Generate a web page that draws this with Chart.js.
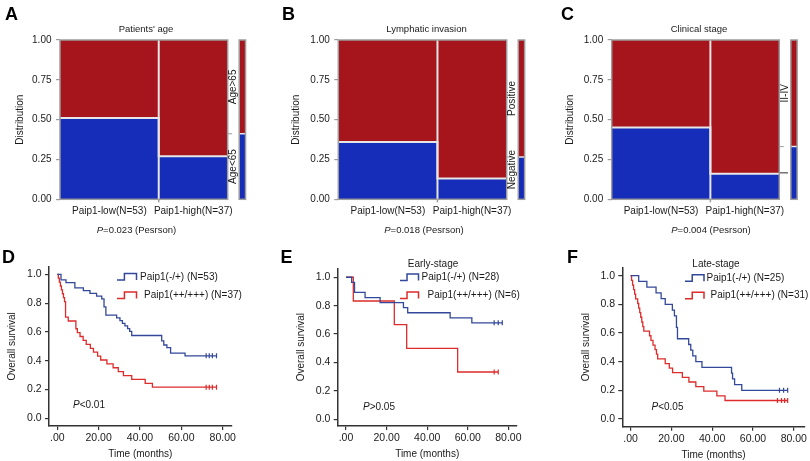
<!DOCTYPE html>
<html>
<head>
<meta charset="utf-8">
<script src="https://cdn.jsdelivr.net/npm/chart.js@4.4.0/dist/chart.umd.min.js"></script>
<style>
  body { margin: 0; background: #fff; }
  #fig { position: relative; width: 810px; height: 461px; overflow: hidden;
         font-family: "Liberation Sans", Arial, sans-serif; color: #1a1a1a; }
  #fig canvas { position: absolute; }
  .c { position: absolute; transform: translate(-50%, -50%); white-space: nowrap; line-height: 1; }
  .l { position: absolute; transform: translate(0, -50%); white-space: nowrap; line-height: 1; }
  .letter { font-size: 18px; font-weight: bold; color: #000; }
  .s { font-size: 9.5px; }
  .m { font-size: 10px; }
</style>
</head>
<body>
<div id="fig">
  <canvas id="cA" width="270" height="222" style="left:0;top:0"></canvas>
  <canvas id="cB" width="270" height="222" style="left:270px;top:0"></canvas>
  <canvas id="cC" width="270" height="222" style="left:540px;top:0"></canvas>
  <canvas id="cD" width="270" height="236" style="left:0;top:225px"></canvas>
  <canvas id="cE" width="270" height="236" style="left:270px;top:225px"></canvas>
  <canvas id="cF" width="270" height="236" style="left:540px;top:225px"></canvas>

  <div class="c letter" style="left:11.5px;top:13.5px">A</div>
  <div class="c letter" style="left:288.5px;top:13.5px">B</div>
  <div class="c letter" style="left:567.5px;top:13.5px">C</div>
  <div class="c letter" style="left:8.5px;top:256.5px">D</div>
  <div class="c letter" style="left:286.5px;top:256.5px">E</div>
  <div class="c letter" style="left:572.5px;top:256.5px">F</div>

  <div class="c s" style="left:146px;top:29px">Patients' age</div>
  <div class="c s" style="left:426.5px;top:29px">Lymphatic invasion</div>
  <div class="c s" style="left:699px;top:29px">Clinical stage</div>

  <div class="c s" style="left:136.5px;top:230px"><i>P</i>=0.023 (Pesrson)</div>
  <div class="c s" style="left:424px;top:230px"><i>P</i>=0.018 (Pesrson)</div>
  <div class="c s" style="left:711px;top:230px"><i>P</i>=0.004 (Pesrson)</div>

  <div class="c m" style="left:433px;top:263.5px">Early-stage</div>
  <div class="c m" style="left:716px;top:263.5px">Late-stage</div>

  <div class="l m" style="left:73px;top:405px"><i>P</i>&lt;0.01</div>
  <div class="l m" style="left:363px;top:406.5px"><i>P</i>&gt;0.05</div>
  <div class="l m" style="left:651.5px;top:406.5px"><i>P</i>&lt;0.05</div>
</div>
<script>
// ---- mosaic panels (A-C) ----
const groups = ["Paip1-low(N=53)", "Paip1-high(N=37)"];
const groupN = [53, 37];
const distTicks = [0, 0.25, 0.5, 0.75, 1];

// share of the lower (blue) category within each group
const ageBlue = [0.51, 0.27];
const lymphBlue = [0.36, 0.13];
const stageBlue = [0.45, 0.16];
const ageCats = ["Age<65", "Age>65"];
const lymphCats = ["Negative", "Positive"];
const stageCats = ["I", "II-IV"];

// ---- survival panels (D-F) ----
const timeTicks = [0, 20, 40, 60, 80];
const survTicks = [0, 0.2, 0.4, 0.6, 0.8, 1.0];

const allLabels = ["Paip1(-/+) (N=53)", "Paip1(++/+++) (N=37)"];
const allLowT = [0, 1.8, 4.2, 8.5, 12.6, 15.8, 19, 21.5, 22.6, 23.5, 28.7, 30.3, 31.5, 32.7, 34, 35, 36, 50.5, 51.5, 53, 54.8, 61.8, 77];
const allLowS = [1, 0.962, 0.943, 0.906, 0.887, 0.868, 0.849, 0.830, 0.774, 0.717, 0.698, 0.679, 0.660, 0.642, 0.623, 0.604, 0.575, 0.538, 0.509, 0.491, 0.453, 0.434, 0.434];
const allLowCens = [72, 73.5, 75, 77];
const allHighT = [0, 0.5, 1, 1.5, 2, 2.5, 3, 3.5, 4, 5.3, 9, 9.7, 11, 12.5, 14, 16, 17.5, 19.5, 21, 24, 27, 29.5, 32, 36, 42.5, 46, 77];
const allHighS = [1, 0.973, 0.946, 0.919, 0.892, 0.865, 0.838, 0.811, 0.703, 0.676, 0.622, 0.595, 0.568, 0.541, 0.514, 0.486, 0.459, 0.432, 0.405, 0.378, 0.351, 0.324, 0.297, 0.270, 0.243, 0.216, 0.216];
const allHighCens = [72, 73.5, 75, 77];

const earlyLabels = ["Paip1(-/+) (N=28)", "Paip1(++/+++) (N=6)"];
const earlyLowT = [0, 2.8, 4.2, 9.4, 16.8, 28.3, 30.4, 51.3, 62, 77];
const earlyLowS = [1, 0.964, 0.893, 0.857, 0.821, 0.786, 0.750, 0.714, 0.679, 0.679];
const earlyLowCens = [73, 75, 77];
const earlyHighT = [0, 3.6, 23.8, 29.9, 55, 75];
const earlyHighS = [1, 0.833, 0.667, 0.5, 0.333, 0.333];
const earlyHighCens = [73, 75];

const lateLabels = ["Paip1(-/+) (N=25)", "Paip1(++/+++) (N=31)"];
const lateLowT = [0, 4, 8, 12.5, 15, 17, 20.5, 21.5, 22.5, 23, 28.5, 29.5, 30.5, 32, 35, 49.5, 50, 51, 54.5, 77];
const lateLowS = [1, 0.96, 0.92, 0.88, 0.84, 0.80, 0.76, 0.72, 0.64, 0.56, 0.52, 0.48, 0.44, 0.40, 0.36, 0.32, 0.28, 0.24, 0.20, 0.20];
const lateLowCens = [73, 75, 77];
const lateHighT = [0, 0.5, 1, 1.5, 2, 2.5, 3.5, 4, 4.5, 5, 5.5, 6, 6.5, 9.3, 10, 11, 12, 12.7, 13.3, 17, 19, 20.6, 25.4, 28.6, 32, 35.9, 42.3, 46.3, 77];
const lateHighS = [1, 0.968, 0.935, 0.903, 0.871, 0.839, 0.806, 0.774, 0.742, 0.710, 0.677, 0.645, 0.613, 0.581, 0.548, 0.516, 0.484, 0.452, 0.419, 0.387, 0.355, 0.323, 0.290, 0.258, 0.226, 0.194, 0.161, 0.129, 0.129];
const lateHighCens = [72, 74, 75.5, 77];

const FONT = '"Liberation Sans", Arial, sans-serif';
Chart.defaults.font.family = FONT;
Chart.defaults.font.size = 10;
Chart.defaults.color = "#1a1a1a";

const RED = "#a6141c", BLUE = "#152db8", SEP = "#e6e6e6", FRAME = "#9c9c9c";
const KM_BLUE = "#33489a", KM_RED = "#de2b2b";
const MARG = [96.2, 99.6];   // x-range of the marginal bar
const none = "rgba(0,0,0,0)";

const mosaicDeco = {
  id: "mosaicDeco",
  afterDatasetsDraw(chart, args, o) {
    if (!o.cats) return;
    const { ctx, scales: { x, y } } = chart;
    const total = groupN[0] + groupN[1];
    const top = y.getPixelForValue(1), bot = y.getPixelForValue(0);
    ctx.save();
    ctx.strokeStyle = FRAME;
    ctx.lineWidth = 1.5;
    const box = (a, b) => {
      const x0 = x.getPixelForValue(a), x1 = x.getPixelForValue(b);
      ctx.strokeRect(x0, top, x1 - x0, bot - top);
    };
    box(0, total);
    box(MARG[0], MARG[1]);
    const xs = x.getPixelForValue(groupN[0]);
    ctx.beginPath(); ctx.moveTo(xs, bot); ctx.lineTo(xs, bot + 3); ctx.stroke();
    const xr = x.getPixelForValue(total);
    const yo = y.getPixelForValue(o.overall);
    ctx.lineWidth = 1;
    ctx.beginPath(); ctx.moveTo(xr, yo); ctx.lineTo(xr + 4.5, yo); ctx.stroke();

    ctx.fillStyle = "#1a1a1a";
    ctx.font = "10px " + FONT;
    ctx.textAlign = "center";
    ctx.textBaseline = "middle";
    const lx = x.getPixelForValue(o.labelX);
    const segs = [[0, o.overall], [o.overall, 1]];
    o.cats.forEach((c, i) => {
      const half = ctx.measureText(c).width / 2 + 10;
      let yc = y.getPixelForValue((segs[i][0] + segs[i][1]) / 2);
      yc = Math.min(Math.max(yc, top + half), bot - half);
      ctx.save();
      ctx.translate(lx, yc);
      ctx.rotate(-Math.PI / 2);
      ctx.fillText(c, 0, 0);
      ctx.restore();
    });
    ctx.restore();
  }
};

const kmLegend = {
  id: "kmLegend",
  afterDraw(chart, args, o) {
    if (!o.items) return;
    const ctx = chart.ctx;
    ctx.save();
    ctx.font = "10px " + FONT;
    ctx.textAlign = "left";
    ctx.textBaseline = "middle";
    o.items.forEach(it => {
      const x0 = it.ix, x1 = it.ix + it.iw, yt = it.y - 3.5, yb = it.y + 3;
      const xm = x0 + it.iw * 0.38;
      ctx.strokeStyle = it.color;
      ctx.lineWidth = 1.5;
      ctx.beginPath();
      ctx.moveTo(x0, yb); ctx.lineTo(xm, yb); ctx.lineTo(xm, yt);
      ctx.lineTo(x1, yt); ctx.lineTo(x1, yb);
      ctx.stroke();
      ctx.fillStyle = "#1a1a1a";
      ctx.fillText(it.text, it.tx, it.y);
    });
    ctx.restore();
  }
};

function mosaic(id, blue, cats, lay) {
  const total = groupN[0] + groupN[1];
  const cut = groupN[0];
  const overall = (blue[0] * groupN[0] + blue[1] * groupN[1]) / total;
  const centers = [cut / 2, cut + groupN[1] / 2];
  const flat = { pointRadius: 0, borderWidth: 0, borderColor: none };
  new Chart(document.getElementById(id), {
    type: "line",
    data: {
      // the first dataset is painted on top
      datasets: [
        { ...flat, data: [{ x: cut, y: 0 }, { x: cut, y: 1 }], borderColor: SEP, borderWidth: 2 },
        { ...flat, data: [{ x: 0, y: blue[0] }, { x: cut, y: blue[1] }, { x: total, y: blue[1] }],
          stepped: "before", fill: "origin", backgroundColor: BLUE, borderColor: SEP, borderWidth: 2 },
        { ...flat, data: [{ x: 0, y: 1 }, { x: total, y: 1 }], fill: "origin", backgroundColor: RED },
        { ...flat, data: [{ x: MARG[0], y: overall }, { x: MARG[1], y: overall }], fill: "origin",
          backgroundColor: BLUE, borderColor: SEP, borderWidth: 1.5 },
        { ...flat, data: [{ x: MARG[0], y: 1 }, { x: MARG[1], y: 1 }], fill: "origin", backgroundColor: RED }
      ]
    },
    options: {
      responsive: false, animation: false, devicePixelRatio: 1,
      layout: { padding: { left: 0, top: 40, right: lay.padR, bottom: 0 } },
      plugins: {
        legend: { display: false }, tooltip: { enabled: false },
        mosaicDeco: { cats, overall, labelX: 93.2 }
      },
      scales: {
        x: {
          type: "linear", min: 0, max: 100,
          afterBuildTicks: s => { s.ticks = centers.map(v => ({ value: v })); },
          afterFit: s => { s.height = 22.7; },
          grid: { display: false, drawTicks: false }, border: { display: false },
          ticks: { padding: 6, autoSkip: false, maxRotation: 0, font: { size: 10 },
                   callback: (v, i) => groups[i] }
        },
        y: {
          min: 0, max: 1,
          afterBuildTicks: s => { s.ticks = distTicks.map(v => ({ value: v })); },
          afterFit: s => { s.width = lay.axisW; },
          grid: { drawOnChartArea: false, color: FRAME, tickLength: 4, lineWidth: 1.2 },
          border: { display: false },
          ticks: { padding: 4.5, font: { size: 10 }, callback: v => v.toFixed(2) },
          title: { display: true, text: "Distribution", font: { size: 10 },
                   padding: { top: lay.titlePad, bottom: 0 } }
        }
      }
    },
    plugins: [mosaicDeco]
  });
}

function km(id, series, labels, lay) {
  const datasets = [];
  series.forEach(s => {
    const last = s.s[s.s.length - 1];
    datasets.push({ data: s.cens.map(t => ({ x: t, y: last })), showLine: false,
      pointStyle: "line", pointRotation: 90, pointRadius: 2.5,
      pointBorderColor: s.color, pointBorderWidth: 1.2 });
    datasets.push({ data: s.t.map((t, i) => ({ x: t, y: s.s[i] })), stepped: "before",
      borderColor: s.color, borderWidth: 1.3, pointRadius: 0, fill: false });
  });
  const items = series.map((s, i) => ({
    text: labels[i], color: s.color, ix: lay.legend[i][0], iw: lay.legend[i][1],
    tx: lay.legend[i][2], y: lay.legend[i][3]
  }));
  new Chart(document.getElementById(id), {
    type: "line",
    data: { datasets },
    options: {
      responsive: false, animation: false, devicePixelRatio: 1,
      layout: { padding: { left: 0, top: lay.top, right: lay.padR, bottom: 0 } },
      plugins: { legend: { display: false }, tooltip: { enabled: false }, kmLegend: { items } },
      scales: {
        x: {
          type: "linear", min: lay.xr[0], max: lay.xr[1],
          afterBuildTicks: s => { s.ticks = timeTicks.map(v => ({ value: v })); },
          afterFit: s => { s.height = lay.xh; },
          grid: { drawOnChartArea: false, color: "#333", tickLength: 4, lineWidth: 1.2 },
          border: { color: "#333", width: 1.5 },
          ticks: { padding: 2, autoSkip: false, maxRotation: 0, font: { size: 10.5 },
                   callback: v => (v === 0 ? ".00" : v.toFixed(2)) },
          title: { display: true, text: "Time (months)", font: { size: 10 },
                   padding: { top: 0, bottom: lay.xtp } }
        },
        y: {
          min: lay.yr[0], max: lay.yr[1],
          afterBuildTicks: s => { s.ticks = survTicks.map(v => ({ value: v })); },
          afterFit: s => { s.width = lay.yw; },
          grid: { drawOnChartArea: false, color: "#333", tickLength: 4, lineWidth: 1.2 },
          border: { color: "#333", width: 1.5 },
          ticks: { padding: 3.3, font: { size: 10.5 }, callback: v => v.toFixed(1) },
          title: { display: true, text: "Overall survival", font: { size: 10 },
                   padding: { top: lay.ytp, bottom: 0 } }
        }
      }
    },
    plugins: [kmLegend]
  });
}

mosaic("cA", ageBlue, ageCats, { axisW: 60, padR: 23.7, titlePad: 14.7 });
mosaic("cB", lymphBlue, lymphCats, { axisW: 68.3, padR: 14.6, titlePad: 20.7 });
mosaic("cC", stageBlue, stageCats, { axisW: 71.7, padR: 12.1, titlePad: 24.7 });

km("cD", [
  { t: allLowT, s: allLowS, cens: allLowCens, color: KM_BLUE },
  { t: allHighT, s: allHighS, cens: allHighCens, color: KM_RED }
], allLabels, {
  top: 41.7, padR: 38.3, yw: 49, xh: 35, xr: [-4.01, 84.35], yr: [-0.0535, 1.053], ytp: 6.7, xtp: 0.7,
  legend: [[117, 19.5, 140, 52], [117, 19.5, 144, 70.5]]
});
km("cE", [
  { t: earlyLowT, s: earlyLowS, cens: earlyLowCens, color: KM_BLUE },
  { t: earlyHighT, s: earlyHighS, cens: earlyHighCens, color: KM_RED }
], earlyLabels, {
  top: 43.3, padR: 23.3, yw: 67.7, xh: 35, xr: [-4.09, 84.1], yr: [-0.047, 1.063], ytp: 25.7, xtp: 0.7,
  legend: [[130, 18.5, 151.5, 52.5], [130, 18.5, 157.5, 70.5]]
});
km("cF", [
  { t: lateLowT, s: lateLowS, cens: lateLowCens, color: KM_BLUE },
  { t: lateHighT, s: lateHighS, cens: lateHighCens, color: KM_RED }
], lateLabels, {
  top: 42.7, padR: 1.7, yw: 82.3, xh: 34.3, xr: [-4.04, 85.4], yr: [-0.054, 1.056], ytp: 40.7, xtp: 0,
  legend: [[145, 19, 166.5, 53.3], [145, 19, 170.5, 70.7]]
});
</script>
</body>
</html>
